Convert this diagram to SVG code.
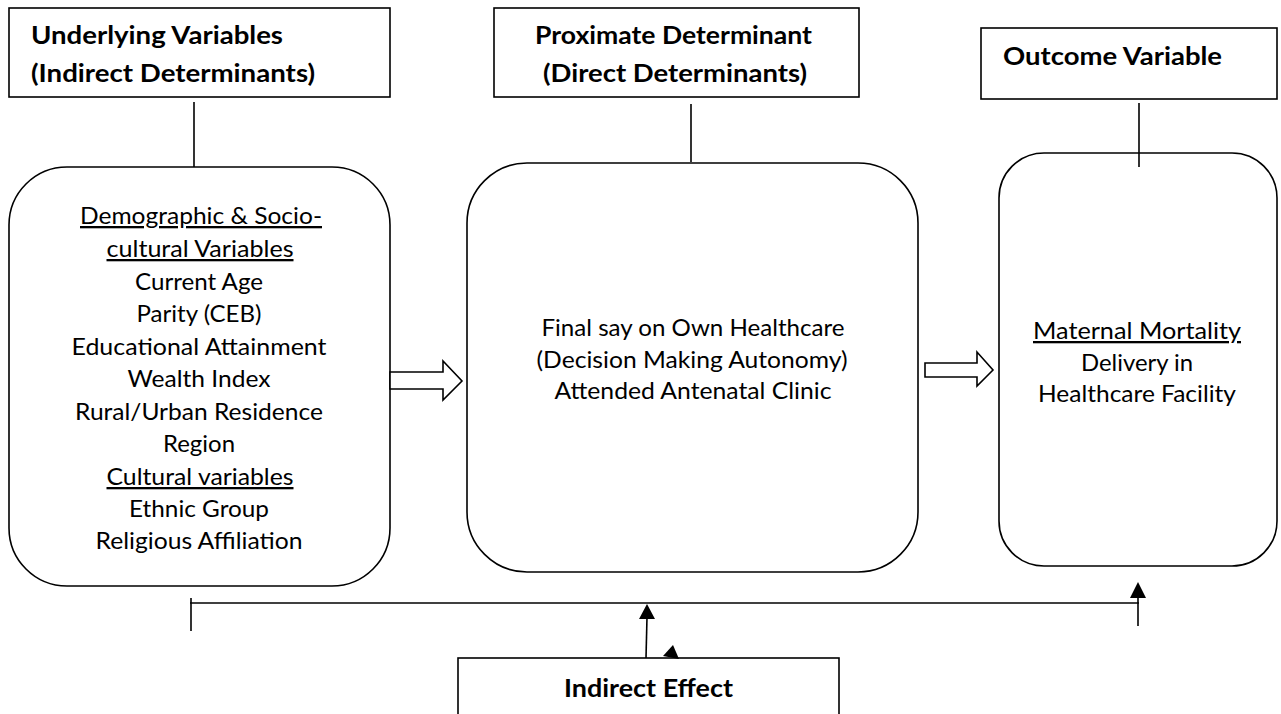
<svg xmlns="http://www.w3.org/2000/svg" width="1281" height="714" viewBox="0 0 1281 714">
<style>
  .box { fill: #ffffff; stroke: #000000; stroke-width: 1.6; }
  .ln { fill: none; stroke: #000000; stroke-width: 1.6; }
  .blk { fill: #ffffff; stroke: #000000; stroke-width: 1.6; stroke-linejoin: miter; }
  .hd { fill: #000000; stroke: none; }
  .t { font-family: Lato, "Liberation Sans", Arial, sans-serif; font-size: 23px; fill: #000000; text-anchor: middle; }
  .b { font-family: Lato, "Liberation Sans", Arial, sans-serif; font-size: 24px; font-weight: bold; fill: #000000; }
  .u { text-decoration: underline; }
</style>
<rect x="0" y="0" width="1281" height="714" fill="#ffffff"/>

<g id="node-underlying">
  <rect class="box" x="9" y="8" width="381" height="89"/>
  <text class="b" x="31" y="44" textLength="252" lengthAdjust="spacingAndGlyphs">Underlying Variables</text>
  <text class="b" x="31" y="82" textLength="284" lengthAdjust="spacingAndGlyphs">(Indirect Determinants)</text>
</g>

<g id="node-proximate">
  <rect class="box" x="494" y="8" width="365" height="89"/>
  <text class="b" x="535" y="44" textLength="277" lengthAdjust="spacingAndGlyphs">Proximate Determinant</text>
  <text class="b" x="543" y="82" textLength="264" lengthAdjust="spacingAndGlyphs">(Direct Determinants)</text>
</g>

<g id="node-outcome">
  <rect class="box" x="981" y="28" width="296" height="71"/>
  <text class="b" x="1003" y="65" textLength="219" lengthAdjust="spacingAndGlyphs">Outcome Variable</text>
</g>

<g id="node-demographic">
  <rect class="box" x="9" y="167" width="381" height="419" rx="58" ry="58"/>
  <text class="t u" x="201" y="224" textLength="242" lengthAdjust="spacingAndGlyphs">Demographic &amp; Socio-</text>
  <text class="t u" x="200" y="257" textLength="187" lengthAdjust="spacingAndGlyphs">cultural Variables</text>
  <text class="t" x="199" y="290" textLength="128" lengthAdjust="spacingAndGlyphs">Current Age</text>
  <text class="t" x="199" y="322" textLength="125" lengthAdjust="spacingAndGlyphs">Parity (CEB)</text>
  <text class="t" x="199" y="355" textLength="255" lengthAdjust="spacingAndGlyphs">Educational Attainment</text>
  <text class="t" x="199" y="387" textLength="143" lengthAdjust="spacingAndGlyphs">Wealth Index</text>
  <text class="t" x="199" y="420" textLength="248" lengthAdjust="spacingAndGlyphs">Rural/Urban Residence</text>
  <text class="t" x="199" y="452" textLength="72" lengthAdjust="spacingAndGlyphs">Region</text>
  <text class="t u" x="200" y="485" textLength="187" lengthAdjust="spacingAndGlyphs">Cultural variables</text>
  <text class="t" x="199" y="517" textLength="140" lengthAdjust="spacingAndGlyphs">Ethnic Group</text>
  <text class="t" x="199" y="549" textLength="207" lengthAdjust="spacingAndGlyphs">Religious Affiliation</text>
</g>

<g id="node-direct">
  <rect class="box" x="467" y="163" width="451" height="409" rx="60" ry="60"/>
  <text class="t" x="693" y="336" textLength="303" lengthAdjust="spacingAndGlyphs">Final say on Own Healthcare</text>
  <text class="t" x="692" y="368" textLength="311" lengthAdjust="spacingAndGlyphs">(Decision Making Autonomy)</text>
  <text class="t" x="693" y="399" textLength="277" lengthAdjust="spacingAndGlyphs">Attended Antenatal Clinic</text>
</g>

<g id="node-maternal">
  <rect class="box" x="999" y="153" width="278" height="413" rx="45" ry="45"/>
  <text class="t u" x="1137" y="339" textLength="208" lengthAdjust="spacingAndGlyphs">Maternal Mortality</text>
  <text class="t" x="1137" y="371" textLength="112" lengthAdjust="spacingAndGlyphs">Delivery in</text>
  <text class="t" x="1137" y="402" textLength="198" lengthAdjust="spacingAndGlyphs">Healthcare Facility</text>
</g>

<g id="node-indirect-effect">
  <rect class="box" x="458" y="658" width="381" height="70"/>
  <text class="b" x="564" y="697" textLength="169" lengthAdjust="spacingAndGlyphs">Indirect Effect</text>
</g>

<g id="connectors">
  <line class="ln" x1="194" y1="102" x2="194" y2="167"/>
  <line class="ln" x1="691" y1="104" x2="691" y2="162"/>
  <line class="ln" x1="1139" y1="103" x2="1139" y2="167"/>
  <polygon class="blk" points="390,372 443,372 443,361 462,381 443,400 443,389 390,389"/>
  <polygon class="blk" points="925,363 977,363 977,352 993,370 977,386 977,377 925,377"/>
  <line class="ln" x1="190" y1="603" x2="1139" y2="603"/>
  <line class="ln" x1="191" y1="598" x2="191" y2="631"/>
  <line class="ln" x1="1138" y1="626" x2="1138" y2="596"/>
  <polygon class="hd" points="1138,582 1130,598 1146,598"/>
  <line class="ln" x1="646" y1="658" x2="647" y2="617"/>
  <polygon class="hd" points="647,604 639,619 655,619"/>
  <polygon class="hd" points="673,645 663,656 679,659"/>
</g>
</svg>
